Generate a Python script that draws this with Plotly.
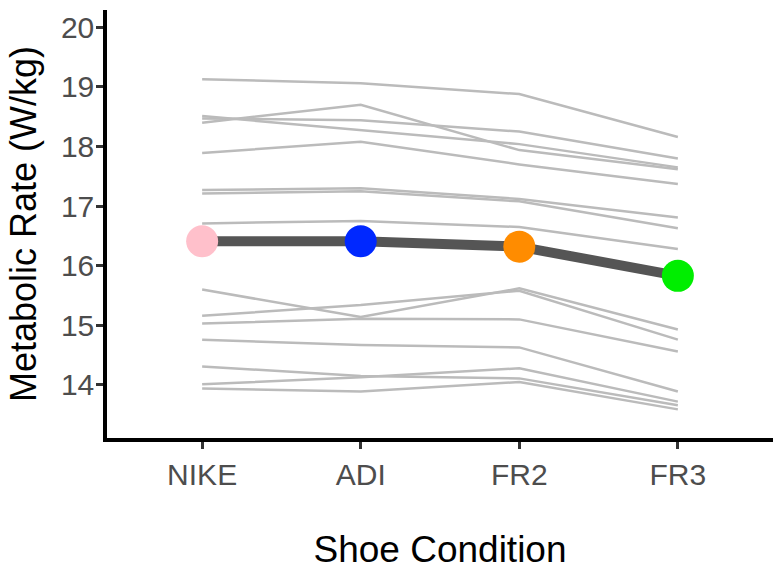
import plotly.graph_objects as go

conditions = ["NIKE", "ADI", "FR2", "FR3"]

# Individual subject metabolic rates (W/kg) per shoe condition
s01 = [19.13, 19.06, 18.88, 18.16]
s02 = [18.40, 18.70, 17.94, 17.62]
s03 = [18.47, 18.44, 18.25, 17.80]
s04 = [18.51, 18.28, 18.04, 17.65]
s05 = [17.89, 18.08, 17.70, 17.37]
s06 = [17.27, 17.30, 17.12, 16.81]
s07 = [17.21, 17.25, 17.08, 16.63]
s08 = [16.71, 16.75, 16.65, 16.28]
s09 = [15.60, 15.14, 15.62, 14.93]
s10 = [15.16, 15.34, 15.58, 14.76]
s11 = [15.03, 15.11, 15.10, 14.56]
s12 = [14.76, 14.67, 14.63, 13.89]
s13 = [14.31, 14.15, 14.11, 13.66]
s14 = [14.01, 14.13, 14.28, 13.72]
s15 = [13.94, 13.89, 14.05, 13.59]
subjects = [s01, s02, s03, s04, s05, s06, s07, s08, s09, s10, s11, s12, s13, s14, s15]

mean_rate = [16.41, 16.41, 16.32, 15.83]
mean_colors = ["#FFC0CB", "#0028FF", "#FF8C00", "#00EE00"]

y_ticks = [14, 15, 16, 17, 18, 19, 20]

fig = go.Figure()
for s in subjects:
    fig.add_trace(go.Scatter(x=conditions, y=s, mode="lines",
                             line=dict(color="#BBBBBB", width=2.5),
                             hoverinfo="skip", showlegend=False))
fig.add_trace(go.Scatter(x=conditions, y=mean_rate, mode="lines",
                         line=dict(color="#555555", width=10),
                         showlegend=False))
fig.add_trace(go.Scatter(x=conditions, y=mean_rate, mode="markers",
                         marker=dict(color=mean_colors, size=32, line=dict(width=0)),
                         showlegend=False))

fig.update_layout(
    width=773, height=571,
    margin=dict(l=107, r=0, t=10, b=133),
    plot_bgcolor="white", paper_bgcolor="white",
    font=dict(family="Liberation Sans, Arial, sans-serif", color="black"),
    xaxis=dict(
        range=[-0.6, 3.6], type="category",
        automargin=False,
        showgrid=False, zeroline=False,
        showline=True, linecolor="black", linewidth=3.5,
        ticks="outside", ticklen=7, tickwidth=2.5, tickcolor="#333333",
        tickfont=dict(size=30, color="#4D4D4D"),
        ticklabelstandoff=0,
        title=dict(text="Shoe Condition", font=dict(size=37, color="black"), standoff=47),
    ),
    yaxis=dict(
        range=[13.11, 20.29],
        tickvals=y_ticks,
        automargin=False,
        showgrid=False, zeroline=False,
        showline=True, linecolor="black", linewidth=3.5,
        ticks="outside", ticklen=7, tickwidth=2.5, tickcolor="#333333",
        tickfont=dict(size=30, color="#4D4D4D"),
        ticklabelstandoff=-4,
        title=dict(text="Metabolic Rate (W/kg)", font=dict(size=36, color="black"), standoff=14),
    ),
)

fig.write_html(
    "out.html",
    config={"displayModeBar": False},
    post_script="document.body.style.margin='0';document.body.style.overflow='hidden';",
)
